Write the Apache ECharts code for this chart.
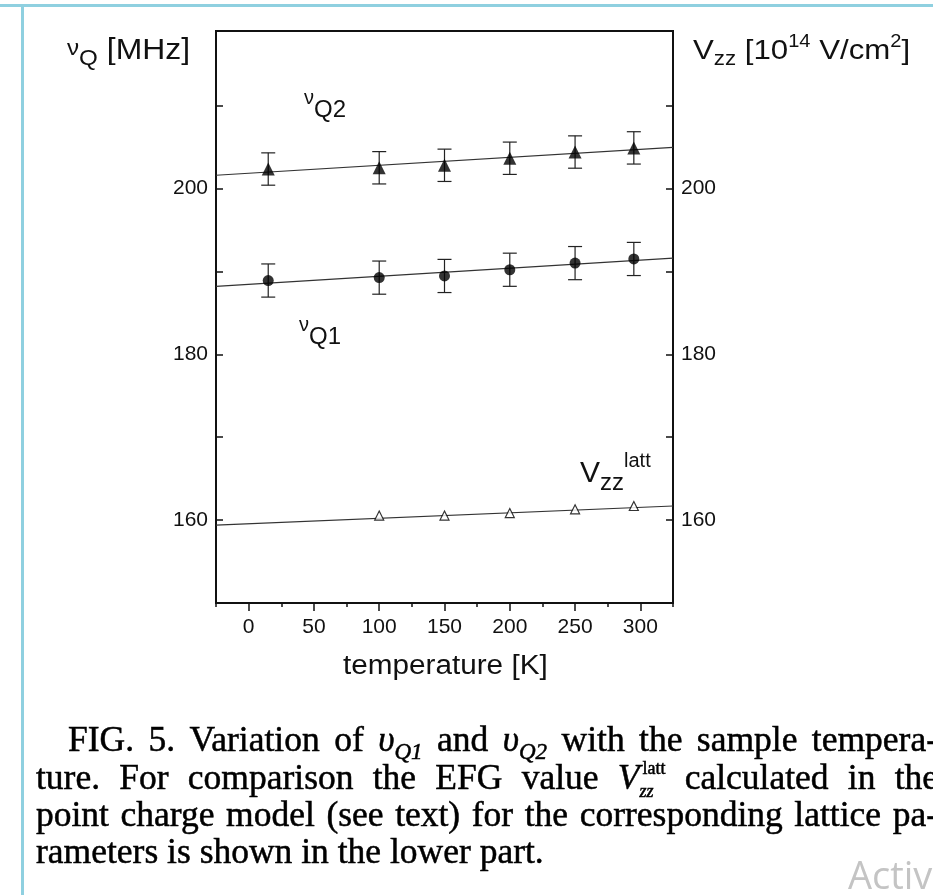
<!DOCTYPE html>
<html>
<head>
<meta charset="utf-8">
<script src="https://cdn.jsdelivr.net/npm/echarts@6/dist/echarts.min.js"></script>
<style>
html,body{margin:0;padding:0;background:#fff;}
#c{width:933px;height:895px;}
</style>
</head>
<body>
<div id="c"></div>
<script>
// ---- data ----
const temps = [15, 100, 150, 200, 250, 295];
const nuQ2 = [202.35, 202.5, 202.8, 203.65, 204.4, 204.9];
const nuQ2Err = [1.95, 1.95, 1.95, 1.95, 1.95, 1.95];
const nuQ1 = [188.9, 189.25, 189.45, 190.2, 191.0, 191.5];
const nuQ1Err = [2.0, 2.0, 2.0, 2.0, 2.0, 2.0];
const tempsLatt = [100, 150, 200, 250, 295];
const vzzLatt = [160.55, 160.55, 160.85, 161.3, 161.7];
const fitT = [-25, 325];
const fitQ2 = [201.6, 204.95];
const fitQ1 = [188.2, 191.6];
const fitLatt = [159.4, 161.7];
const xMajorTicks = [0, 50, 100, 150, 200, 250, 300];
const xMinorTicks = [-25, 25, 75, 125, 175, 225, 275, 325];
const yTicks = [160, 170, 180, 190, 200, 210];
const yLabels = [160, 180, 200];
const xTitle = 'temperature [K]';
// caption: words separated by spaces, {style|text} marks special segments
const captionLines = [
  'FIG. 5. Variation of {i|υ}{sub|Q1} and {i|υ}{sub|Q2} with the sample tempera-',
  'ture. For comparison the EFG value {i|V}{sup|latt}{subz|zz} calculated in the',
  'point charge model (see text) for the corresponding lattice pa-',
  'rameters is shown in the lower part.'
];

const pair = (xs, ys) => xs.map((x, i) => [x, ys[i]]);
const errData = (xs, ys, es) => xs.map((x, i) => [x, ys[i] - es[i], ys[i] + es[i]]);

function errRender(params, api) {
  const x = api.value(0);
  const lo = api.coord([x, api.value(1)]);
  const hi = api.coord([x, api.value(2)]);
  const w = 7;
  const st = {stroke: '#222', lineWidth: 1.2};
  return {
    type: 'group',
    children: [
      {type: 'line', shape: {x1: lo[0], y1: lo[1], x2: hi[0], y2: hi[1]}, style: st},
      {type: 'line', shape: {x1: lo[0] - w, y1: lo[1], x2: lo[0] + w, y2: lo[1]}, style: st},
      {type: 'line', shape: {x1: hi[0] - w, y1: hi[1], x2: hi[0] + w, y2: hi[1]}, style: st}
    ]
  };
}

const SANS = 'Liberation Sans';
const SERIF = 'Liberation Serif';
const mctx = document.createElement('canvas').getContext('2d');
function fontStr(s, fam) {
  return (s.italic ? 'italic ' : '') + s.size + 'px "' + fam + '"';
}
function measure(s, fam) { mctx.font = fontStr(s, fam); return mctx.measureText(s.t).width; }

// build text elements for a run of segments placed on a baseline
function runEls(segs, x, baseline, fam, opt) {
  opt = opt || {};
  const sx = opt.scaleX || 1;
  const els = [];
  let cx = x, pending = 0;
  segs.forEach(s => {
    const w = measure(s, fam) * sx + (s.dx || 0);
    const style = {
      text: s.t, fontSize: s.size, fontFamily: fam, fontStyle: s.italic ? 'italic' : 'normal',
      fill: opt.fill || '#111', align: 'left', verticalAlign: 'middle'
    };
    if (opt.stroke) { style.stroke = opt.fill || '#111'; style.lineWidth = opt.stroke; }
    els.push({type: 'text', x: cx + (s.dx || 0), y: baseline + (s.dy || 0) - 0.31 * s.size, scaleX: sx, z: 10, style});
    if (s.adv === false) { pending = w; } else { cx += Math.max(w, pending); pending = 0; }
  });
  return {els, width: cx - x};
}

function parseWord(word, size) {
  const segs = [];
  const re = /\{(\w+)\|([^}]*)\}|([^{]+)/g;
  let m;
  while ((m = re.exec(word))) {
    if (m[3] !== undefined) { segs.push({t: m[3], size}); continue; }
    const st = m[1], t = m[2];
    if (st === 'i') segs.push({t, size, italic: true});
    else if (st === 'sub') segs.push({t, size: Math.round(size * 0.66), italic: true, dy: size * 0.2});
    else if (st === 'sup') segs.push({t, size: Math.round(size * 0.52), dy: -size * 0.42, adv: false, dx: 3});
    else if (st === 'subz') segs.push({t, size: Math.round(size * 0.52), italic: true, dy: size * 0.22});
  }
  return segs;
}

const CAP_SIZE = 35.5;
function captionEls() {
  const all = [];
  const starts = [68, 36, 36, 36];
  const justifyEnd = 938;
  captionLines.forEach((line, li) => {
    const base = 753 + li * 37.2;
    const words = line.split(' ').map(w => parseWord(w, CAP_SIZE));
    const widths = words.map(ws => runEls(ws, 0, 0, SERIF).width);
    const total = widths.reduce((a, b) => a + b, 0);
    mctx.font = CAP_SIZE + 'px "' + SERIF + '"';
    let gap = mctx.measureText(' ').width;
    if (li < 3) gap = (justifyEnd - starts[li] - total) / (words.length - 1);
    let cx = starts[li];
    words.forEach((ws, wi) => {
      const r = runEls(ws, cx, base, SERIF, {fill: '#000', stroke: 0.5});
      all.push(...r.els);
      cx += widths[wi] + gap;
    });
  });
  return all;
}

const yAxisBase = (pos) => ({
  type: 'value', position: pos, min: 150, max: 219,
  axisLine: {show: true, onZero: false, lineStyle: {color: '#111', width: 2}},
  axisTick: {show: true, inside: true, length: 7, customValues: yTicks, lineStyle: {color: '#111', width: 1.5}},
  axisLabel: {show: true, customValues: yLabels, fontSize: 21, color: '#111', fontFamily: SANS, margin: 8},
  splitLine: {show: false}
});

const chart = echarts.init(document.getElementById('c'), null, {renderer: 'canvas'});

let graphics = [
  {type: 'rect', shape: {x: 0, y: 4, width: 933, height: 3}, style: {fill: '#8fd0e0'}},
  {type: 'rect', shape: {x: 21, y: 4, width: 3, height: 891}, style: {fill: '#8fd0e0'}}
];
// axis titles
graphics = graphics.concat(runEls([
  {t: 'ν', size: 22, dy: -4}, {t: 'Q', size: 22, dy: 6}, {t: ' [MHz]', size: 29}
], 67, 60, SANS, {scaleX: 1.1}).els);
graphics = graphics.concat(runEls([
  {t: 'V', size: 28}, {t: 'zz', size: 20, dy: 6}, {t: ' [10', size: 28}, {t: '14', size: 18, dy: -12},
  {t: ' V/cm', size: 28}, {t: '2', size: 18, dy: -12}, {t: ']', size: 28}
], 693, 60, SANS, {scaleX: 1.115}).els);
graphics = graphics.concat(runEls([{t: xTitle, size: 27}], 343, 675, SANS, {scaleX: 1.1}).els);
// in-plot labels
graphics = graphics.concat(runEls([{t: 'ν', size: 20, dy: -13}, {t: 'Q2', size: 24}], 304, 118, SANS).els);
graphics = graphics.concat(runEls([{t: 'ν', size: 20, dy: -13}, {t: 'Q1', size: 24}], 299, 345, SANS).els);
graphics = graphics.concat(runEls([
  {t: 'V', size: 30}, {t: 'zz', size: 24, dy: 8}, {t: 'latt', size: 20, dy: -15}
], 580, 483, SANS).els);
graphics = graphics.concat(captionEls());
graphics.push({type: 'text', x: 848, y: 878, style: {text: 'Activ', fontSize: 38, fontFamily: 'Open Sans', fill: '#c4c4c4', align: 'left', verticalAlign: 'middle'}});

chart.setOption({
  animation: false,
  backgroundColor: '#fff',
  grid: {left: 216, top: 31, width: 457, height: 572, show: true, borderColor: '#111', borderWidth: 2, backgroundColor: 'transparent'},
  xAxis: [
    {
      type: 'value', min: -25, max: 325, position: 'bottom',
      axisLine: {show: true, onZero: false, lineStyle: {color: '#111', width: 2}},
      axisTick: {show: true, inside: false, length: 8, customValues: xMajorTicks, lineStyle: {color: '#111', width: 1.5}},
      axisLabel: {show: true, customValues: xMajorTicks, fontSize: 21, color: '#111', fontFamily: SANS, margin: 14},
      splitLine: {show: false}
    },
    {
      type: 'value', min: -25, max: 325, position: 'bottom',
      axisLine: {show: false, onZero: false},
      axisTick: {show: true, inside: false, length: 4, customValues: xMinorTicks, lineStyle: {color: '#111', width: 1.5}},
      axisLabel: {show: false},
      splitLine: {show: false}
    }
  ],
  yAxis: [yAxisBase('left'), yAxisBase('right')],
  series: [
    {type: 'line', data: pair(fitT, fitQ2), symbol: 'none', lineStyle: {color: '#333', width: 1.2}, clip: true, silent: true},
    {type: 'line', data: pair(fitT, fitQ1), symbol: 'none', lineStyle: {color: '#333', width: 1.2}, clip: true, silent: true},
    {type: 'line', data: pair(fitT, fitLatt), symbol: 'none', lineStyle: {color: '#333', width: 1.2}, clip: true, silent: true},
    {type: 'custom', renderItem: errRender, data: errData(temps, nuQ2, nuQ2Err), z: 3},
    {type: 'custom', renderItem: errRender, data: errData(temps, nuQ1, nuQ1Err), z: 3},
    {type: 'scatter', data: pair(temps, nuQ2), symbol: 'triangle', symbolSize: 13, itemStyle: {color: '#000'}, z: 4},
    {type: 'scatter', data: pair(temps, nuQ1), symbol: 'circle', symbolSize: 11, itemStyle: {color: '#000'}, z: 4},
    {type: 'scatter', data: pair(tempsLatt, vzzLatt), symbol: 'triangle', symbolSize: 9, itemStyle: {color: '#fff', borderColor: '#000', borderWidth: 1.2}, z: 4}
  ],
  graphic: graphics
});
</script>
</body>
</html>
